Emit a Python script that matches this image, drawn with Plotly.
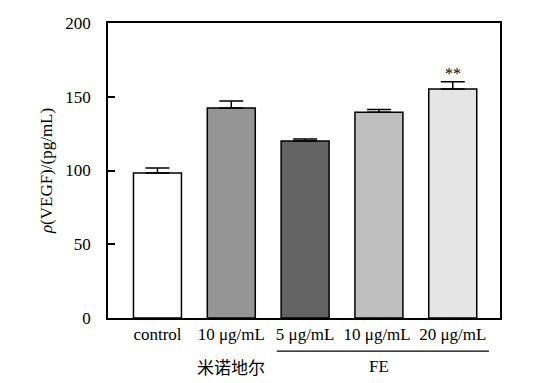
import plotly.graph_objects as go

categories = ["control", "10 μg/mL", "5 μg/mL", "10 μg/mL ", "20 μg/mL"]
values = [98.3, 142.4, 120.0, 139.5, 155.3]
errors = [3.4, 4.8, 1.4, 1.8, 4.8]
colors = ["#ffffff", "#959595", "#646464", "#bfbfbf", "#e5e5e5"]
y_ticks = [0, 50, 100, 150, 200]
group_labels = ["米诺地尔", "FE"]
signif = ["", "", "", "", "**"]

xs = list(range(len(categories)))
serif = "Liberation Serif, Times New Roman, serif"
FS = 17

fig = go.Figure()
fig.add_trace(go.Bar(
    x=xs, y=values, width=0.65,
    marker=dict(color=colors, line=dict(color="black", width=1.5)),
    error_y=dict(type="data", array=errors, arrayminus=[0]*len(errors),
                 symmetric=False, color="black", thickness=1.5, width=12),
    showlegend=False,
))

for i, s in enumerate(signif):
    if s:
        fig.add_annotation(x=xs[i], y=values[i] + errors[i], yref="y", xref="x",
                           text=s, showarrow=False, yanchor="bottom", yshift=-2,
                           font=dict(family=serif, size=16, color="black"))

# group labels
fig.add_annotation(x=1, y=-0.166, xref="x", yref="paper", text=group_labels[0],
                   showarrow=False, yanchor="middle",
                   font=dict(family="Noto Sans CJK SC", size=17, color="black"))
fig.add_annotation(x=3, y=-0.166, xref="x", yref="paper", text=group_labels[1],
                   showarrow=False, yanchor="middle",
                   font=dict(family=serif, size=FS, color="black"))
fig.add_shape(type="line", xref="x", yref="paper", x0=1.616, x1=4.49, y0=-0.112, y1=-0.112,
              line=dict(color="black", width=1.2))

fig.update_layout(
    width=536, height=383,
    margin=dict(l=100, r=44, t=15, b=73, autoexpand=False),
    plot_bgcolor="white", paper_bgcolor="white",
    font=dict(family=serif, size=FS, color="black"),
)
fig.update_xaxes(
    range=[-0.67, 4.64], tickvals=xs, ticktext=categories, ticks="",
    showline=True, linecolor="black", linewidth=1.5, mirror=True,
    showgrid=False, zeroline=False, automargin=False,
    tickfont=dict(family=serif, size=FS, color="black"),
)
fig.update_yaxes(
    range=[0, 200], tickvals=y_ticks, ticks="inside", ticklen=7, tickwidth=1.5,
    tickcolor="black", showline=True, linecolor="black", linewidth=1.5, mirror=True,
    showgrid=False, zeroline=False, ticklabelstandoff=12, automargin=False,
    tickfont=dict(family=serif, size=FS, color="black"),
    title=dict(text="<i>ρ</i>(VEGF)/(pg/mL)", standoff=8,
               font=dict(family=serif, size=FS, color="black")),
)

fig.write_html("out.html")
